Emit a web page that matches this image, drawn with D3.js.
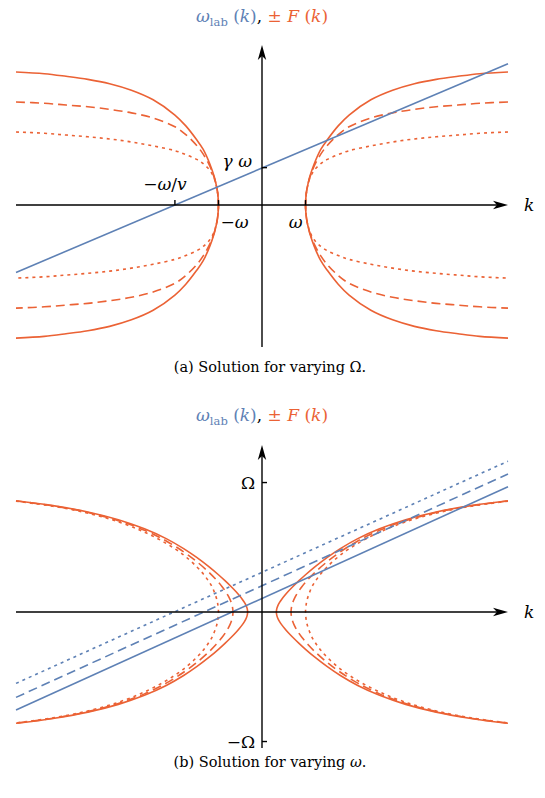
<!DOCTYPE html>
<html lang="en">
  <head>
    <script src="https://d3js.org/d3.v7.min.js"></script>
    <meta charset="utf-8">
    <style>
      body { margin: 0; background: #fff; }
      text { font-family: "DejaVu Serif", "Liberation Serif", serif; }
      .axis { stroke: #000; stroke-width: 1.4; fill: none; }
      .curve { fill: none; stroke-width: 1.6; }
    </style>
    <title></title>
  </head>
  <body>
  </body>
</html>

<script>
    const RED = "#EB6235", BLUE = "#5E81B5";

    // ---- panel (a): varying Omega (units: omega = 1)
    const kA = [1, 1.01, 1.03, 1.06, 1.1, 1.2, 1.35, 1.5, 1.75, 2, 2.5, 3, 3.5, 4, 4.5, 5, 5.65];
    const fSolidA = [0, 0.2, 0.36, 0.5, 0.66, 0.95, 1.28, 1.5, 1.82, 2.07, 2.42, 2.64, 2.79, 2.89, 2.96, 3.02, 3.06];
    const fDashA  = [0, 0.2, 0.355, 0.5, 0.64, 0.9, 1.17, 1.37, 1.62, 1.8, 2.0, 2.12, 2.2, 2.26, 2.3, 2.34, 2.37];
    const fDotA   = [0, 0.2, 0.35, 0.48, 0.62, 0.8, 0.95, 1.05, 1.16, 1.25, 1.36, 1.45, 1.52, 1.57, 1.61, 1.65, 1.68];
    const kLineA = [-5.65, 5.65];
    const wLabA = [-1.55, 3.25];
    const xTicksA = [-2, -1, 1];
    const xTickLabelsA = ["−ω/v", "−ω", "ω"];
    const yTicksA = [0.86];
    const yTickLabelsA = ["γ ω"];

    // ---- panel (b): varying omega (units: Omega = 1)
    const kSolidB = [0.33, 0.34, 0.36, 0.4, 0.45, 0.52, 0.6, 0.7, 0.85, 1.0, 1.2, 1.5, 1.8, 2.2, 2.7, 3.3, 4.0, 4.8, 5.65];
    const fSolidB = [0, 0.026, 0.046, 0.072, 0.097, 0.127, 0.158, 0.193, 0.242, 0.288, 0.345, 0.422, 0.49, 0.567, 0.643, 0.713, 0.773, 0.822, 0.859];
    const kDashB = [0.667, 0.68, 0.71, 0.76, 0.83, 0.92, 1.05, 1.2, 1.5, 1.8, 2.2, 2.7, 3.3, 4.0, 4.8, 5.65];
    const fDashB = [0, 0.042, 0.077, 0.115, 0.155, 0.197, 0.249, 0.301, 0.39, 0.465, 0.549, 0.632, 0.706, 0.769, 0.82, 0.858];
    const kDotB = [1.0, 1.015, 1.04, 1.08, 1.14, 1.22, 1.35, 1.5, 1.8, 2.2, 2.7, 3.3, 4.0, 4.8, 5.65];
    const fDotB = [0, 0.06, 0.1, 0.14, 0.19, 0.235, 0.295, 0.35, 0.44, 0.53, 0.617, 0.697, 0.764, 0.817, 0.856];
    const kLineB = [-5.65, 5.65];
    const wLabSolidB = [-0.757, 0.968];
    const wLabDashB = [-0.659, 1.066];
    const wLabDotB = [-0.551, 1.165];
    const yTicksB = [1, -1];
    const yTickLabelsB = ["Ω", "−Ω"];

    const svg = d3.select("body").append("svg")
        .attr("width", 545)
        .attr("height", 798);

    const DASH = "9,5", DOT = "3,4";

    const x = d3.scaleLinear().domain([-5.65, 5.65]).range([16, 508]);
    const yA = d3.scaleLinear().domain([-3.264, 3.68]).range([347, 45]);
    const yB = d3.scaleLinear().domain([-1.05, 1.29]).range([748, 445]);

    // one hyperbola-like branch, top -> vertex -> bottom
    function branch(ks, fs, sign) {
        const top = ks.map((k, i) => [sign * k, fs[i]]).reverse();
        const bot = ks.slice(1).map((k, i) => [sign * k, -fs[i + 1]]);
        return top.concat(bot);
    }

    function arrowHead(g, px, py, angle) {
        g.append("path")
            .attr("d", "M0,0 L-15,-4.2 L-11,0 L-15,4.2 Z")
            .attr("fill", "#000")
            .attr("transform", `translate(${px},${py}) rotate(${angle})`);
    }

    function drawAxes(g, y) {
        const y0 = y(0), x0 = x(0);
        const [yb, yt] = y.range();
        g.append("line").attr("class", "axis")
            .attr("x1", x.range()[0]).attr("x2", x.range()[1] - 10)
            .attr("y1", y0).attr("y2", y0);
        arrowHead(g, x.range()[1], y0, 0);
        g.append("line").attr("class", "axis")
            .attr("x1", x0).attr("x2", x0)
            .attr("y1", yb).attr("y2", yt + 10);
        arrowHead(g, x0, yt, -90);
        g.append("text")
            .attr("x", x.range()[1] + 16).attr("y", y0 + 6)
            .attr("font-size", 17).attr("font-style", "italic")
            .text("k");
    }

    function title(g, ty) {
        const t = g.append("text")
            .attr("x", x(0)).attr("y", ty)
            .attr("text-anchor", "middle")
            .attr("font-size", 17);
        const parts = [
            ["ω", BLUE, "italic"], ["lab", BLUE, null, 11.5, 4], [" (", BLUE, null, null, -4],
            ["k", BLUE, "italic"], [")", BLUE], [", ", "#000"], ["± ", RED],
            ["F", RED, "italic"], [" (", RED], ["k", RED, "italic"], [")", RED]
        ];
        parts.forEach(p => {
            const s = t.append("tspan").attr("fill", p[1]).text(p[0]);
            if (p[2]) s.attr("font-style", p[2]);
            if (p[3]) s.attr("font-size", p[3]);
            if (p[4]) s.attr("dy", p[4]);
        });
    }

    function mathLabel(g, px, py, anchor, str) {
        // minus sign upright, letters italic
        const t = g.append("text").attr("x", px).attr("y", py)
            .attr("text-anchor", anchor).attr("font-size", 17);
        str.split("").forEach(ch => {
            const s = t.append("tspan").text(ch);
            if (ch !== "−" && ch !== "/" && ch !== " ") s.attr("font-style", "italic");
        });
        return t;
    }

    // ================= panel (a) =================
    const ga = svg.append("g");
    const lineA = d3.line().x(d => x(d[0])).y(d => yA(d[1])).curve(d3.curveCatmullRom.alpha(0.5));

    [[fSolidA, null], [fDashA, DASH], [fDotA, DOT]].forEach(([fs, da]) => {
        [1, -1].forEach(sign => {
            ga.append("path").attr("class", "curve")
                .attr("stroke", RED)
                .attr("stroke-dasharray", da)
                .attr("d", lineA(branch(kA, fs, sign)));
        });
    });

    ga.append("path").attr("class", "curve")
        .attr("stroke", BLUE)
        .attr("d", d3.line().x(d => x(d[0])).y(d => yA(d[1]))(kLineA.map((k, i) => [k, wLabA[i]])));

    drawAxes(ga, yA);

    xTicksA.forEach(t => {
        ga.append("line").attr("class", "axis")
            .attr("x1", x(t)).attr("x2", x(t))
            .attr("y1", yA(0)).attr("y2", yA(0) - 5);
    });
    yTicksA.forEach(t => {
        ga.append("line").attr("class", "axis")
            .attr("x1", x(0)).attr("x2", x(0) + 5)
            .attr("y1", yA(t)).attr("y2", yA(t));
    });
    mathLabel(ga, x(xTicksA[0]) - 10, yA(0) - 15, "middle", xTickLabelsA[0]);
    mathLabel(ga, x(xTicksA[1]) + 2, yA(0) + 23, "start", xTickLabelsA[1]);
    mathLabel(ga, x(xTicksA[2]) - 3, yA(0) + 23, "end", xTickLabelsA[2]);
    mathLabel(ga, x(0) - 10, yA(yTicksA[0]) - 1, "end", yTickLabelsA[0]);

    title(ga, 22);

    ga.append("text")
        .attr("x", 270).attr("y", 372)
        .attr("text-anchor", "middle").attr("font-size", 14.5)
        .text("(a) Solution for varying Ω.");

    // ================= panel (b) =================
    const gb = svg.append("g");
    const lineB = d3.line().x(d => x(d[0])).y(d => yB(d[1])).curve(d3.curveCatmullRom.alpha(0.5));

    [[kSolidB, fSolidB, null], [kDashB, fDashB, DASH], [kDotB, fDotB, DOT]].forEach(([ks, fs, da]) => {
        [1, -1].forEach(sign => {
            gb.append("path").attr("class", "curve")
                .attr("stroke", RED)
                .attr("stroke-dasharray", da)
                .attr("d", lineB(branch(ks, fs, sign)));
        });
    });

    [[wLabSolidB, null], [wLabDashB, DASH], [wLabDotB, DOT]].forEach(([ws, da]) => {
        gb.append("path").attr("class", "curve")
            .attr("stroke", BLUE)
            .attr("stroke-dasharray", da)
            .attr("d", d3.line().x(d => x(d[0])).y(d => yB(d[1]))(kLineB.map((k, i) => [k, ws[i]])));
    });

    drawAxes(gb, yB);

    yTicksB.forEach((t, i) => {
        gb.append("line").attr("class", "axis")
            .attr("x1", x(0)).attr("x2", x(0) + 5)
            .attr("y1", yB(t)).attr("y2", yB(t));
        gb.append("text")
            .attr("x", x(0) - 7).attr("y", yB(t) + 6)
            .attr("text-anchor", "end").attr("font-size", 17)
            .text(yTickLabelsB[i]);
    });

    title(gb, 421);

    const cb = gb.append("text")
        .attr("x", 270).attr("y", 767)
        .attr("text-anchor", "middle").attr("font-size", 14.5);
    cb.append("tspan").text("(b) Solution for varying ");
    cb.append("tspan").attr("font-style", "italic").text("ω");
    cb.append("tspan").text(".");
</script>
